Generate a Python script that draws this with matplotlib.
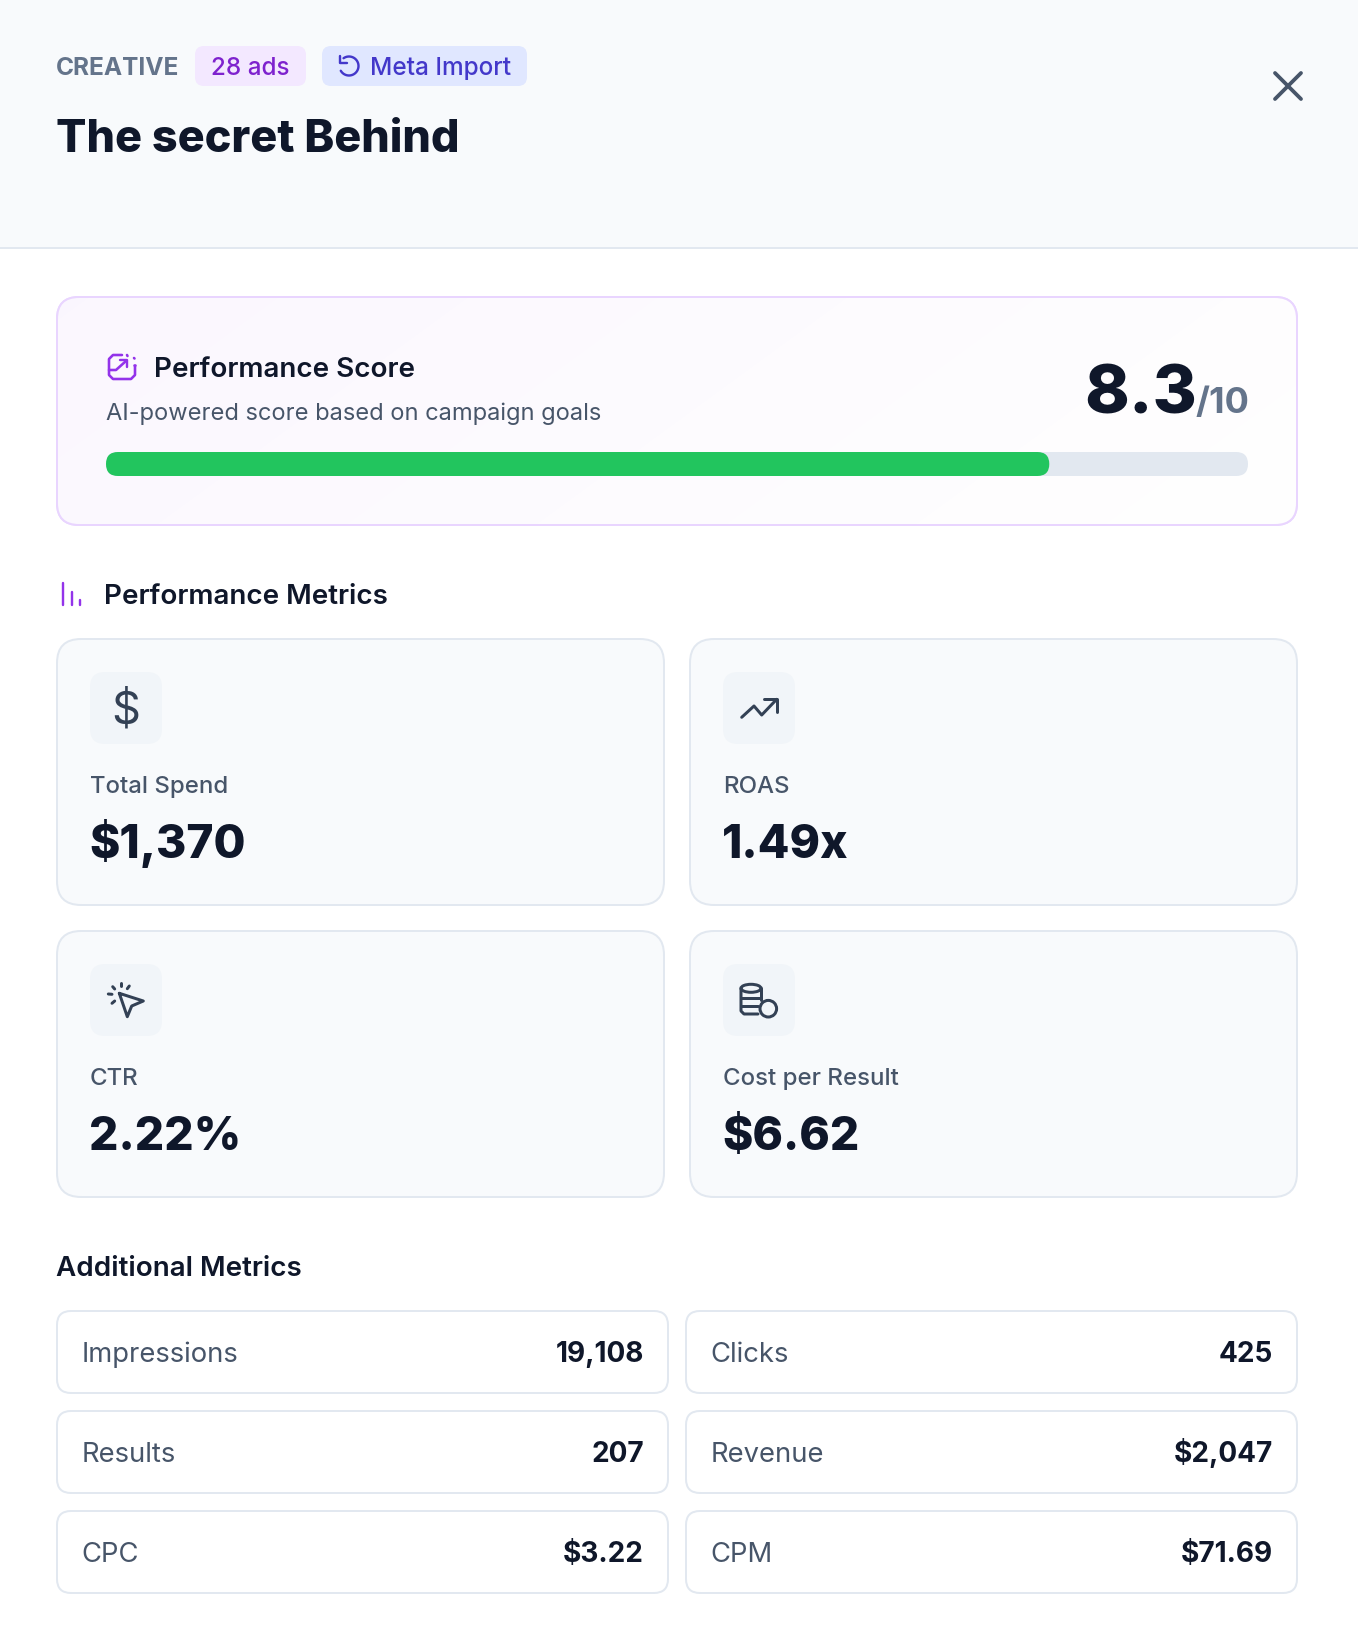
import numpy as np
import matplotlib
matplotlib.use('Agg')
import matplotlib.pyplot as plt
from matplotlib.patches import FancyBboxPatch, Circle, Ellipse

plt.rcParams['font.family'] = ['Inter', 'Liberation Sans', 'DejaVu Sans']

# values
score = 8.3
score_fill = 8.26
score_max = 10
metric_labels = ['Total Spend', 'ROAS', 'CTR', 'Cost per Result']
metric_values = ['$1,370', '1.49x', '2.22%', '$6.62']
extra_labels = ['Impressions', 'Clicks', 'Results', 'Revenue', 'CPC', 'CPM']
extra_values = ['19,108', '425', '207', '$2,047', '$3.22', '$71.69']

DARK = '#0f172a'
SLATE = '#475569'
MUTED = '#64748b'
LINE = '#e2e8f0'
PURPLE = '#9333ea'
ICON = '#334155'

W, H = 1358, 1628
fig = plt.figure(figsize=(W / 100, H / 100), dpi=100, facecolor='white')
ax = fig.add_axes([0, 0, 1, 1])
ax.set_xlim(0, W)
ax.set_ylim(H, 0)
ax.axis('off')


def px(v):
    return v * 0.72


def box(x0, y0, x1, y1, r, fc, ec='none', lw=2, z=1):
    p = FancyBboxPatch((x0, y0), x1 - x0, y1 - y0, boxstyle=f'round,pad=0,rounding_size={r}',
                       fc=fc, ec=ec, lw=px(lw), zorder=z)
    ax.add_patch(p)
    return p


def label(x, y, s, size, color=DARK, weight='normal', ha='left'):
    return ax.text(x, y, s, fontsize=px(size), color=color, fontweight=weight, ha=ha, va='baseline', zorder=5)


def stroke(pts, color=ICON, lw=3.0):
    pts = np.array(pts, dtype=float)
    ax.plot(pts[:, 0], pts[:, 1], color=color, lw=px(lw), solid_capstyle='round',
            solid_joinstyle='round', zorder=4)


# header
ax.fill_between([0, W], 0, 247, color='#f8fafc', lw=0, zorder=0)
ax.plot([0, W], [247.5, 247.5], color=LINE, lw=px(2), zorder=1)
label(56, 75, 'CREATIVE', 24.5, MUTED, 'bold')
box(195, 46, 306, 86, 9, '#f3e8ff')
label(211, 75, '28 ads', 24.2, '#7e22ce', 'medium')
box(322, 46, 527, 86, 9, '#e0e7ff')
label(370, 75, 'Meta Import', 24.4, '#4338ca', 'medium')
t = np.radians(np.linspace(-125, 150, 40))
stroke(np.c_[349 + 9.5 * np.cos(t), 66 + 9.5 * np.sin(t)], '#4338ca', 2.4)
stroke([(340, 56), (340, 63), (347, 63)], '#4338ca', 2.4)
label(56, 151.5, 'The secret Behind', 45, DARK, 800)
stroke([(1275, 73), (1301, 99)], SLATE, 3.8)
stroke([(1301, 73), (1275, 99)], SLATE, 3.8)

# score card
card = box(57, 297, 1297, 525, 22, 'white', '#e9d5ff')
gx, gy = np.meshgrid(np.linspace(0, 1, 620), np.linspace(0, 1, 114))
mix = np.clip(0.8 * gx + 0.2 * gy, 0, 1)[:, :, None]
left = np.array([0.984, 0.968, 0.998])
im = ax.imshow(left * (1 - mix) + mix, extent=(57, 1297, 525, 297),
               aspect='auto', zorder=1.5, interpolation='bilinear')
im.set_clip_path(card)
ax.set_xlim(0, W)
ax.set_ylim(H, 0)
box(57, 297, 1297, 525, 22, 'none', '#e9d5ff', z=2)

stroke([(122, 355), (113, 355), (109, 359), (109, 375), (113, 379), (131, 379), (135, 375), (135, 366)], PURPLE, 2.6)
stroke([(109, 370), (116, 370), (126, 361)], PURPLE, 2.6)
stroke([(120, 360), (127, 360), (127, 367)], PURPLE, 2.4)
stroke([(127, 355), (127.5, 356)], PURPLE, 2.6)
stroke([(134, 358), (134.5, 358.5)], PURPLE, 2.6)
stroke([(134, 365), (134.5, 365)], PURPLE, 2.6)
label(154, 377, 'Performance Score', 27.8, DARK, 'semibold')
label(106, 420, 'AI-powered score based on campaign goals', 23.65, SLATE)
label(1197, 413, f'{score}', 67.5, DARK, 800, ha='right')
label(1195, 413, f'/{score_max}', 36, MUTED, 'bold')

bar_x0, bar_x1 = 106, 1248
box(bar_x0, 452, bar_x1, 476, 12, LINE, z=3)
box(bar_x0, 452, bar_x0 + (bar_x1 - bar_x0) * score_fill / score_max, 476, 12, '#22c55e', z=3.5)

# performance metrics
for x, top in [(63, 583), (71.5, 592), (80, 600)]:
    stroke([(x, top), (x, 605)], PURPLE, 2.4)
label(104, 604, 'Performance Metrics', 27.8, DARK, 'semibold')

card_x = [(57, 664), (690, 1297)]
card_y = [(639, 905), (931, 1197)]
for i in range(4):
    x0, x1 = card_x[i % 2]
    y0, y1 = card_y[i // 2]
    box(x0, y0, x1, y1, 24, '#f8fafc', LINE)
    box(x0 + 33, y0 + 33, x0 + 105, y0 + 105, 15, '#f1f5f9', z=2)
    label(x0 + 33, y0 + 154, metric_labels[i], 24, SLATE, 'medium')
    label(x0 + 32, y0 + 219, metric_values[i], 46.2, DARK, 800)

# card icons
ax.text(126, 711, '$', fontsize=px(45), color=ICON, fontweight='normal', ha='center', va='center', zorder=4)
stroke([(741.7, 717.3), (754, 706), (761.7, 715), (776.7, 699.3)])
stroke([(764, 699.3), (776.7, 699.3), (776.7, 711.7)])
stroke([(119.3, 993.3), (143.3, 1001), (131.7, 1006), (127.3, 1016.7), (119.3, 993.3)])
for a, b in [((121, 982.7), (121, 986)), ((112.7, 986.7), (114.7, 989)), ((129.3, 986), (127.3, 988.7)),
             ((108.3, 994), (112, 994.3)), ((112, 1003.3), (114.7, 1001))]:
    stroke([a, b])
ax.add_patch(Ellipse((751, 988.3), 20, 8, fc='none', ec=ICON, lw=px(3), zorder=4))
stroke([(741, 988.3), (741, 1011), (744, 1014), (758, 1014)])
stroke([(761, 988.3), (761, 1000)])
stroke([(741, 998.3), (761, 998.3)])
stroke([(741, 1006), (758, 1006)])
ax.add_patch(Circle((768.3, 1008.7), 8.3, fc='#f1f5f9', ec=ICON, lw=px(3), zorder=4))

# additional metrics
label(56, 1276, 'Additional Metrics', 27.8, DARK, 'semibold')
cell_x = [(57, 668), (686, 1297)]
cell_y = [1311, 1411, 1511]
for i in range(6):
    x0, x1 = cell_x[i % 2]
    y0 = cell_y[i // 2]
    box(x0, y0, x1, y0 + 82, 14, 'white', LINE)
    label(x0 + 24.5, y0 + 51, extra_labels[i], 27.4, SLATE)
    label(x1 - 24, y0 + 51, extra_values[i], 28, DARK, 'bold', ha='right')

fig.savefig('out.png', dpi=100, facecolor='white')
